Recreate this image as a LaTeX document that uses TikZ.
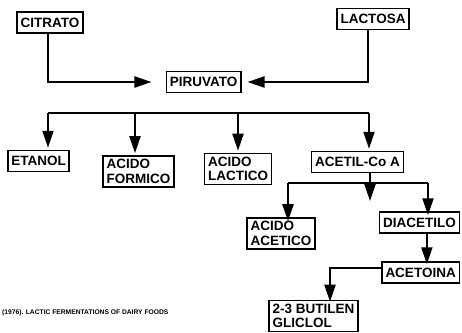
\documentclass[tikz,border=0pt]{standalone}
\usepackage{fontspec}
\setmainfont{Liberation Sans}
\usetikzlibrary{arrows.meta,positioning,calc}

\begin{document}
\begin{tikzpicture}[
  x=1pt, y=-1pt,
  caja/.style={rectangle, draw, line width=1.5pt,
    inner xsep=3.5pt, inner ysep=3.5pt, minimum height=21pt,
    align=left, font=\bfseries\fontsize{13.5}{14.5}\selectfont},
  flecha/.style={-{Triangle[length=17pt,width=11pt]}, line width=2pt},
  linea/.style={line width=2pt},
  nota/.style={inner sep=0pt, font=\bfseries\fontsize{6.7}{7}\selectfont}
]
\useasboundingbox (0,0) rectangle (462,332);
\clip (0,0) rectangle (462,332);

\node[caja] (citrato)  at (50,22.5)  {CITRATO};
\node[caja] (lactosa)  at (373,19)   {LACTOSA};
\node[caja] (piruvato) at (203.5,82) {PIRUVATO};

\node[caja] (etanol)  at (38.5,161)  {ETANOL};
\node[caja] (formico) at (138.5,171.5) {ACIDO\\FORMICO};
\node[caja] (lactico) at (238,169)   {ACIDO\\LACTICO};
\node[caja] (acetil)  at (357.5,162) {ACETIL-Co A};

\node[caja] (acetico)   at (281,233.5)   {ACIDO\\ACETICO};
\node[caja, anchor=east] (diacetilo) at (460,222.5) {DIACETILO};
\node[caja, anchor=east] (acetoina)  at (460,272.5) {ACETOINA};
\node[caja] (butilen)   at (313.5,316)   {2-3 BUTILEN\\GLICLOL};

\node[nota, anchor=west] (nota) at (2,313) {(1976). LACTIC FERMENTATIONS OF DAIRY FOODS};

% entradas al piruvato
\draw[flecha, shorten >=14pt] ([xshift=-2pt]citrato.south) |- (piruvato.west);
\draw[flecha, shorten >=6pt] ([xshift=-5pt]lactosa.south) |- (piruvato.east);

% barra de productos
\coordinate (b1) at (48,113);
\coordinate (b2) at (135,113);
\coordinate (b3) at (238,113);
\coordinate (b4) at (369,113);
\draw[linea] (b1) -- (b4);
\foreach \b/\n in {b1/etanol,b2/formico,b3/lactico,b4/acetil}
  \draw[flecha, shorten >=2pt] (\b) -- (\b |- \n.north);

% acetil-Co A
\coordinate (c1) at (288,183);
\coordinate (c2) at (370,201);
\coordinate (c3) at (428,183);
\draw[linea] (c1) -- (c3);
\draw[flecha] (c2 |- acetil.south) -- (c2);
\draw[flecha, shorten >=-4pt] (c1) -- (c1 |- acetico.north);
\draw[flecha, shorten >=-4pt] (c3) -- (c3 |- diacetilo.north);

\draw[flecha, shorten >=-3pt] ([xshift=7.5pt]diacetilo.south) -- ([xshift=7.5pt]diacetilo.south |- acetoina.north);
\draw[flecha, shorten >=-2pt] ([yshift=5pt]acetoina.west) -| ([xshift=16.5pt]butilen.north);
\end{tikzpicture}
\end{document}
